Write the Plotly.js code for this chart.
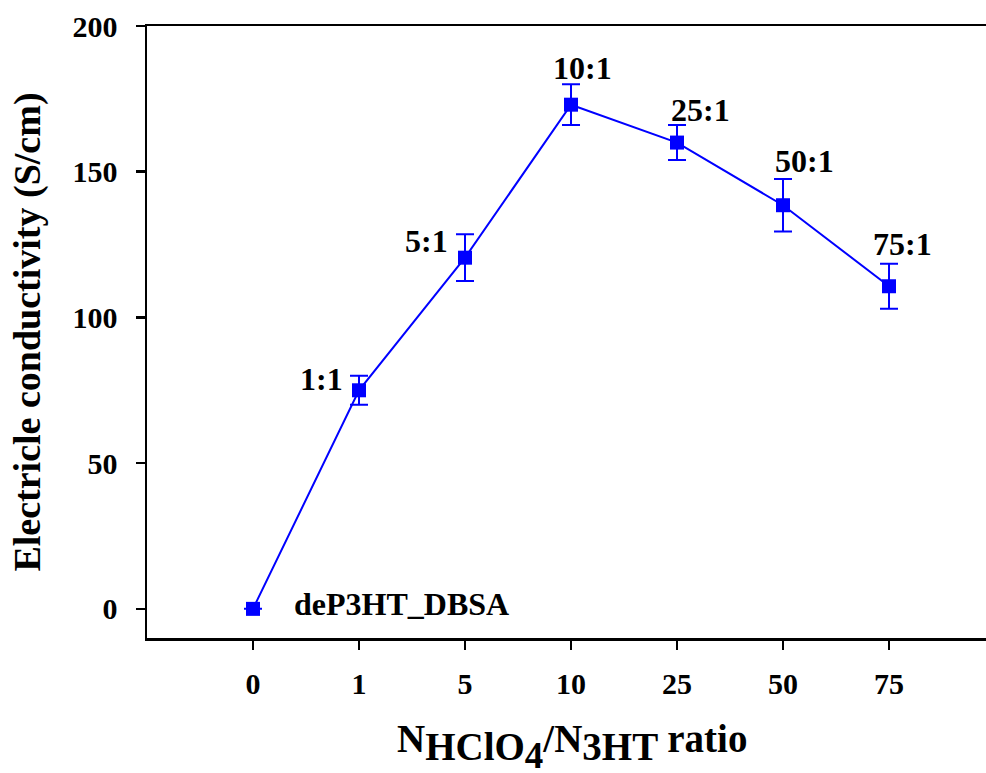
<!DOCTYPE html>
<html>
<head>
<meta charset="utf-8">
<script src="https://cdn.plot.ly/plotly-3.0.1.min.js"></script>
<style>html,body{margin:0;padding:0;background:#fff;}#chart{width:986px;height:773px;}</style>
</head>
<body>
<div id="chart"></div>
<script>
var categories = ["0", "1", "5", "10", "25", "50", "75"];
var pointLabels = ["deP3HT_DBSA", "1:1", "5:1", "10:1", "25:1", "50:1", "75:1"];
var conductivity = [0, 75, 120.5, 173, 160, 138.5, 110.7];
var errorValues = [0, 5, 8, 7, 6, 9, 7.7];
var yTickVals = [0, 50, 100, 150, 200];

var xIdx = categories.map(function (c, i) { return i; });
var labelShift = [[148, 5], [-38, 11], [-39, 17], [11, 37], [23, 33], [21, 44], [13, 42]];

var FONT = "Liberation Serif";
var blue = "#0000ff";

var trace = {
  x: xIdx,
  y: conductivity,
  type: "scatter",
  mode: "lines+markers",
  line: {color: blue, width: 2},
  marker: {symbol: "square", size: 14, color: blue},
  error_y: {type: "data", array: errorValues, visible: true, color: blue, thickness: 2, width: 9},
  showlegend: false,
  hoverinfo: "x+y"
};

var annotations = pointLabels.map(function (t, i) {
  return {
    x: xIdx[i], y: conductivity[i], xref: "x", yref: "y",
    text: t, showarrow: false,
    xshift: labelShift[i][0], yshift: labelShift[i][1],
    font: {family: FONT, size: 32, color: "#000", weight: "bold"}
  };
});

var sz = 39;
var xTitle = "N<sub><span style=\"font-size:" + sz + "px\">HClO<sub><span style=\"font-size:" + (sz - 2) + "px\">4</span></sub></span></sub>/N<sub><span style=\"font-size:" + sz + "px\">3HT</span></sub> ratio";

annotations.push({
  x: 0.5, y: 0, xref: "paper", yref: "paper",
  xanchor: "center", yanchor: "top",
  xshift: 5, yshift: -77,
  text: xTitle, showarrow: false,
  font: {family: FONT, size: sz, color: "#000", weight: "bold"}
});

var layout = {
  width: 986, height: 773,
  margin: {l: 147, r: 0, t: 26, b: 135},
  paper_bgcolor: "#fff", plot_bgcolor: "#fff",
  font: {family: FONT, color: "#000"},
  xaxis: {
    range: [-1, 6.915],
    tickvals: xIdx, ticktext: categories,
    showgrid: false, zeroline: false,
    showline: true, linecolor: "#000", linewidth: 2.5, mirror: true,
    ticks: "outside", ticklen: 9, tickwidth: 2.5, tickcolor: "#000",
    ticklabelstandoff: 8,
    tickfont: {family: FONT, size: 30, color: "#000", weight: "bold"}
  },
  yaxis: {
    range: [-10, 200],
    tickvals: yTickVals,
    showgrid: false, zeroline: false,
    showline: true, linecolor: "#000", linewidth: 2.5, mirror: false,
    ticks: "outside", ticklen: 9, tickwidth: 2.5, tickcolor: "#000",
    ticklabelstandoff: 12,
    tickfont: {family: FONT, size: 30, color: "#000", weight: "bold"},
    title: {text: "Electricle conductivity (S/cm)", font: {family: FONT, size: 38, color: "#000", weight: "bold"}, standoff: 20}
  },
  annotations: annotations
};

Plotly.newPlot("chart", [trace], layout, {displayModeBar: false, staticPlot: true});
</script>
</body>
</html>
